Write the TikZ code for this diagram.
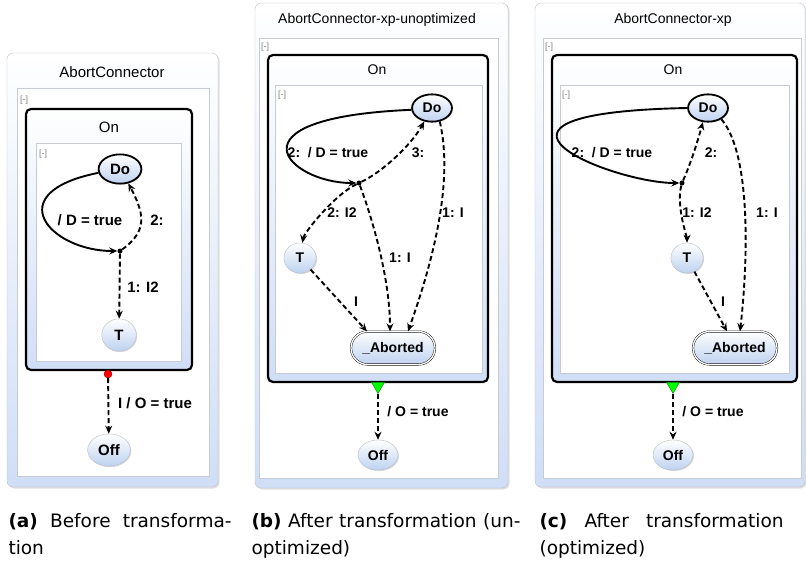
\documentclass[tikz,border=0pt]{standalone}
\usepackage{fontspec}
\setsansfont{Liberation Sans}
\newfontfamily\capfont{DejaVu Sans}
\usetikzlibrary{shapes.geometric,shapes.misc,arrows.meta,shadows}
\definecolor{stateblue}{RGB}{190,210,240}
\definecolor{panelblue}{RGB}{208,222,246}
\definecolor{edgegray}{RGB}{185,190,200}
\tikzset{
  panel/.style={draw=edgegray, rounded corners=6pt, top color=white, bottom color=panelblue,
    drop shadow={opacity=.25, shadow xshift=1.5pt, shadow yshift=-1.5pt}},
  region/.style={draw=edgegray!80, fill=white},
  compound/.style={draw=black, line width=2.2pt, rounded corners=5pt, top color=white, bottom color=panelblue},
  ptitle/.style={font=\sffamily},
  collapse/.style={font=\sffamily\fontsize{9}{10}\selectfont, text=gray},
  state/.style={ellipse, draw=edgegray, top color=white, bottom color=stateblue, font=\sffamily\bfseries,
    inner sep=0pt, minimum width=2.3em, minimum height=2.15em,
    drop shadow={opacity=.3, shadow xshift=1pt, shadow yshift=-1pt}},
  initstate/.style={state, draw=black, line width=1.8pt, minimum width=2.85em, minimum height=1.95em},
  finalstate/.style={state, rounded rectangle, draw=black, double, double distance=1.3pt,
    minimum width=6em, minimum height=2.35em},
  junct/.style={circle, fill=black, inner sep=0pt, minimum size=5pt},
  abortdot/.style={circle, fill=red, draw=red!50!black, inner sep=0pt, minimum size=8pt},
  termtri/.style={regular polygon, regular polygon sides=3, shape border rotate=180, fill=green,
    draw=green!50!black, inner sep=0pt, minimum size=15pt},
  lbl/.style={font=\sffamily\bfseries},
  trans/.style={-{Stealth[length=8pt,width=7pt]}, line width=1.9pt},
  abort/.style={trans, dash pattern=on 5pt off 3pt},
  caption/.style={anchor=base west, font=\capfont\fontsize{18.5}{21}\selectfont}
}

\begin{document}
\begin{tikzpicture}[x=1pt, y=-1pt]
\useasboundingbox (0,0) rectangle (806,563);

% (a) before transformation
\begin{scope}[execute at begin scope={\fontsize{15}{18}\selectfont}]
  \draw[panel] (7,53) rectangle (218,487);
  \draw[region] (17,88) rectangle (209,476);
  \node[ptitle] (titleA) at (112,72) {AbortConnector};
  \node[collapse] (colA1) at (24,100) {[-]};
  \draw[compound] (26,109) rectangle (192,370);
  \node[ptitle] (onA) at (109,127) {On};
  \draw[region] (36,143) rectangle (181,361);
  \node[collapse] (colA2) at (43,154) {[-]};
  \node[initstate] (doA) at (120,169) {Do};
  \node[junct] (jA) at (120,251) {};
  \node[state] (tA) at (119,335) {T};
  \node[abortdot] (rA) at (108,374) {};
  \node[state, minimum width=2.85em] (offA) at (109,450) {Off};
  \draw[trans] (doA.190) .. controls +(-100,20) and +(-70,0) .. (jA);
  \draw[abort] (jA) .. controls +(28,-20) and +(16,30) .. (doA.-60);
  \draw[abort] (jA) -- (tA);
  \draw[abort] (rA) -- (offA);
  \node[lbl] (lDA) at (90,220) {/ D = true};
  \node[lbl] (l2A) at (157,220) {2:};
  \node[lbl] (lTA) at (143,287) {1: I2};
  \node[lbl] (lOA) at (155,403) {I / O = true};
\end{scope}

% (b) after transformation, unoptimized
\begin{scope}[execute at begin scope={\fontsize{14}{17}\selectfont}]
  \draw[panel] (255,3) rectangle (508,488);
  \draw[region] (259,38) rectangle (498,478);
  \node[ptitle] (titleB) at (377,20) {AbortConnector-xp-unoptimized};
  \node[collapse] (colB1) at (265,47) {[-]};
  \draw[compound] (268,55) rectangle (488,382);
  \node[ptitle] (onB) at (377,70) {On};
  \draw[region] (275,85) rectangle (482,373);
  \node[collapse] (colB2) at (282,95) {[-]};
  \node[initstate] (doB) at (432,108) {Do};
  \node[junct] (jB) at (359,183) {};
  \node[state] (tB) at (300,258) {T};
  \node[finalstate] (abB) at (393,348) {\_Aborted};
  \node[termtri] (gB) at (378,386) {};
  \node[state, minimum width=2.85em] (offB) at (378,455) {Off};
  \draw[trans] (doB.185) .. controls +(-190,8) and +(-70,0) .. (jB);
  \draw[abort] (jB) .. controls +(25,-12) and +(-12,22) .. (doB.-120);
  \draw[abort] (jB) .. controls +(-25,12) and +(4,-25) .. (tB);
  \draw[abort] (jB) .. controls +(15,40) and +(0,-50) .. ([xshift=-3pt]abB.north);
  \draw[abort] (doB.-60) .. controls +(14,60) and +(25,-70) .. ([xshift=15pt]abB.north);
  \draw[abort] (tB) -- ([xshift=-26pt]abB.north);
  \draw[abort] (gB) -- (offB);
  \node[lbl] (lDB) at (328,153) {2:\ \ / D = true};
  \node[lbl] (l3B) at (418,153) {3:};
  \node[lbl] (lTB) at (342,213) {2: I2};
  \node[lbl] (lIB) at (453,213) {1: I};
  \node[lbl] (lJB) at (400,258) {1: I};
  \node[lbl] (lAB) at (356,302) {I};
  \node[lbl] (lOB) at (418,412) {/ O = true};
\end{scope}

% (c) after transformation, optimized
\begin{scope}[execute at begin scope={\fontsize{14}{17}\selectfont}]
  \draw[panel] (535,3) rectangle (805,487);
  \draw[region] (543,38) rectangle (801,478);
  \node[ptitle] (titleC) at (673,20) {AbortConnector-xp};
  \node[collapse] (colC1) at (549,47) {[-]};
  \draw[compound] (552,55) rectangle (797,382);
  \node[ptitle] (onC) at (673,70) {On};
  \draw[region] (560,85) rectangle (789,373);
  \node[collapse] (colC2) at (566,95) {[-]};
  \node[initstate] (doC) at (708,108) {Do};
  \node[junct] (jC) at (682,183) {};
  \node[state] (tC) at (687,258) {T};
  \node[finalstate] (abC) at (735,348) {\_Aborted};
  \node[termtri] (gC) at (673,386) {};
  \node[state, minimum width=2.85em] (offC) at (673,455) {Off};
  \draw[trans] (doC.180) .. controls +(-250,5) and +(-70,0) .. (jC);
  \draw[abort] (jC) .. controls +(8,-18) and +(-6,22) .. (doC.-110);
  \draw[abort] (jC) .. controls +(-6,22) and +(0,-20) .. (tC);
  \draw[abort] (doC.-40) .. controls +(30,35) and +(8,-70) .. ([xshift=5pt]abC.north);
  \draw[abort] (tC) -- ([xshift=-8pt]abC.north);
  \draw[abort] (gC) -- (offC);
  \node[lbl] (lDC) at (612,153) {2:\ \ / D = true};
  \node[lbl] (l2C) at (711,153) {2:};
  \node[lbl] (lTC) at (697,213) {1: I2};
  \node[lbl] (lIC) at (767,213) {1: I};
  \node[lbl] (lAC) at (723,302) {I};
  \node[lbl] (lOC) at (713,412) {/ O = true};
\end{scope}

% sub-captions
\node[caption] (capA1) at (5,527) {\makebox[223pt][s]{\textbf{(a)} Before transforma-}};
\node[caption] (capA2) at (5,554) {tion};
\node[caption] (capB1) at (248,527) {\makebox[269pt][s]{\textbf{(b)} After transformation (un-}};
\node[caption] (capB2) at (248,554) {optimized)};
\node[caption] (capC1) at (536,527) {\makebox[244pt][s]{\textbf{(c)} After transformation}};
\node[caption] (capC2) at (536,554) {(optimized)};
\end{tikzpicture}
\end{document}
